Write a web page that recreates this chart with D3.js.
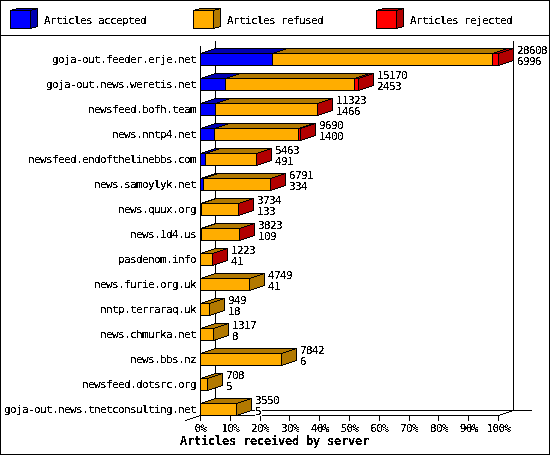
<!DOCTYPE html>
<html>
<head>
<meta charset="utf-8">
<script src="https://d3js.org/d3.v7.min.js"></script>
<style>
    body { margin: 0; background: #fff; }
    text { font-family: "DejaVu Sans Mono", monospace; font-size: 11px; letter-spacing: -0.62px; fill: #000; }
    .pixel { filter: url(#hard); }
    .title { font-size: 12px; letter-spacing: -0.22px; font-weight: bold; }
</style>
</head>
<body>
<script>
(function() {
    var servers = ["goja-out.feeder.erje.net", "goja-out.news.weretis.net", "newsfeed.bofh.team",
        "news.nntp4.net", "newsfeed.endofthelinebbs.com", "news.samoylyk.net", "news.quux.org",
        "news.1d4.us", "pasdenom.info", "news.furie.org.uk", "nntp.terraraq.uk", "news.chmurka.net",
        "news.bbs.nz", "newsfeed.dotsrc.org", "goja-out.news.tnetconsulting.net"];
    var received = [28608, 15170, 11323, 9690, 5463, 6791, 3734, 3823, 1223, 4749, 949, 1317, 7842, 708, 3550];
    var accepted = [6996, 2453, 1466, 1400, 491, 334, 133, 109, 41, 41, 18, 8, 6, 5, 5];
    // rejected is only a pixel or two wide on the picture, so these are estimates
    var rejected = [550, 360, 40, 190, 20, 20, 10, 20, 40, 0, 0, 0, 0, 0, 0];
    var legendNames = ["Articles accepted", "Articles refused", "Articles rejected"];
    var colors = ["#0000ff", "#ffad00", "#ff0000"];
    var shades = ["#0000b2", "#b27900", "#b20000"];
    var percentTicks = [0, 10, 20, 30, 40, 50, 60, 70, 80, 90, 100];

    var widthBase = 550;
    var heightBase = 455;
    var depthX = 15;
    var depthY = 5;
    var barHeight = 12;

    var x = d3.scaleLinear()
        .domain([0, 100])
        .range([200, 498]);

    // band positions follow the 25px row pitch of the picture
    var y = d3.scaleBand()
        .domain(servers)
        .range([47, 422])
        .paddingInner(13 / 25)
        .paddingOuter(6.5 / 25)
        .align(0.5);

    var px = function(v) { return Math.floor(x(v / received[0] * 100)) + 0.5; };
    var labelX = function(i) { return px(received[i]) + 18.5; };

    var svg = d3.select("body")
        .append("svg")
            .attr("width", widthBase)
            .attr("height", heightBase)
            .style("display", "block");

    // no antialiased text on the original, it is a bitmap font
    var hard = svg.append("defs").append("filter")
        .attr("id", "hard")
        .attr("x", "-5%").attr("y", "-20%").attr("width", "110%").attr("height", "140%")
        .attr("color-interpolation-filters", "sRGB");
    hard.append("feComponentTransfer")
        .append("feFuncA")
            .attr("type", "discrete")
            .attr("tableValues", "0 0 1 1 1");

    var shapes = svg.append("g").attr("shape-rendering", "crispEdges");

    // frame and legend separator
    shapes.append("rect")
        .attr("x", 0.5).attr("y", 0.5)
        .attr("width", widthBase - 1).attr("height", heightBase - 1)
        .attr("fill", "#fff").attr("stroke", "#000");
    shapes.append("line")
        .attr("x1", 0).attr("x2", widthBase)
        .attr("y1", 35.5).attr("y2", 35.5)
        .attr("stroke", "#000");

    // legend
    var legend = shapes.selectAll(".legend")
        .data(legendNames)
        .enter().append("g")
            .attr("class", "legend")
            .attr("transform", function(d, i) { return "translate(" + (10.5 + i * 183) + ",10.5)"; });
    legend.append("path")
        .attr("d", "M0,0L7,-2L27,-2L20,0Z")
        .attr("fill", function(d, i) { return shades[i]; })
        .attr("stroke", "#000");
    legend.append("path")
        .attr("d", "M20,0L27,-2L27,16L20,18Z")
        .attr("fill", function(d, i) { return shades[i]; })
        .attr("stroke", "#000");
    legend.append("rect")
        .attr("width", 20).attr("height", 18)
        .attr("fill", function(d, i) { return colors[i]; })
        .attr("stroke", "#000");

    // 3d box of the plot
    var left = x(0) + 0.5;
    var right = x(100) + 0.5;
    var frame = [
        [left, 45.5, left, 415.5],
        [left + depthX, 40.5, left + depthX, 410.5],
        [right + depthX, 40.5, right + depthX, 410.5],
        [left, 415.5, right, 415.5],
        [left + depthX, 410.5, right + depthX + 18, 410.5],
        [left - depthX, 420.5, left + depthX, 410.5],
        [right, 415.5, right + depthX, 410.5]
    ];
    shapes.selectAll(".frame")
        .data(frame)
        .enter().append("line")
            .attr("class", "frame")
            .attr("x1", function(d) { return d[0]; })
            .attr("y1", function(d) { return d[1]; })
            .attr("x2", function(d) { return d[2]; })
            .attr("y2", function(d) { return d[3]; })
            .attr("stroke", "#000");

    // bars
    var rows = shapes.selectAll(".row")
        .data(servers)
        .enter().append("g")
            .attr("class", "row")
            .attr("transform", function(d) { return "translate(0," + y(d) + ")"; });

    rows.each(function(name, r) {
        var row = d3.select(this);
        var stops = [0, accepted[r], received[r] - rejected[r], received[r]];
        var last = rejected[r] > 0 ? 2 : 1;
        var end = px(received[r]);

        for (var s = 0; s < 3; s++) {
            if (stops[s + 1] <= stops[s]) continue;
            var a = px(stops[s]);
            var b = px(stops[s + 1]);
            row.append("path")
                .attr("d", "M" + a + ",0L" + (a + depthX) + "," + (-depthY) +
                    "L" + (b + depthX) + "," + (-depthY) + "L" + b + ",0Z")
                .attr("fill", shades[s])
                .attr("stroke", "#000");
            row.append("rect")
                .attr("x", a).attr("y", 0)
                .attr("width", b - a).attr("height", barHeight)
                .attr("fill", colors[s])
                .attr("stroke", "#000");
        }
        row.append("path")
            .attr("d", "M" + end + ",0L" + (end + depthX) + "," + (-depthY) +
                "L" + (end + depthX) + "," + (barHeight - depthY) + "L" + end + "," + barHeight + "Z")
            .attr("fill", shades[last])
            .attr("stroke", "#000");
    });

    // accepted count sits on a white box, it cuts the floor line on the last row
    shapes.selectAll(".label-bg")
        .data(servers)
        .enter().append("rect")
            .attr("class", "label-bg")
            .attr("x", function(d, i) { return labelX(i); })
            .attr("y", function(d) { return y(d) + 2; })
            .attr("width", function(d, i) { return String(accepted[i]).length * 6 + 1; })
            .attr("height", 11)
            .attr("fill", "#fff");

    var labels = svg.append("g").attr("class", "pixel");

    labels.selectAll(".legend-text")
        .data(legendNames)
        .enter().append("text")
            .attr("class", "legend-text")
            .attr("x", function(d, i) { return 44 + i * 183; })
            .attr("y", 24)
            .text(function(d) { return d; });

    labels.selectAll(".server")
        .data(servers)
        .enter().append("text")
            .attr("class", "server")
            .attr("x", function(d) { return 196 - d.length * 6; })
            .attr("y", function(d) { return y(d) + 9.5; })
            .text(function(d) { return d; });

    // received over accepted, two lines of one label
    var counts = labels.selectAll(".counts")
        .data(servers)
        .enter().append("text")
            .attr("class", "counts");
    counts.append("tspan")
        .attr("x", function(d, i) { return labelX(i); })
        .attr("y", function(d) { return y(d) + 0.5; })
        .text(function(d, i) { return received[i]; });
    counts.append("tspan")
        .attr("x", function(d, i) { return labelX(i); })
        .attr("y", function(d) { return y(d) + 11.5; })
        .text(function(d, i) { return accepted[i]; });

    // x axis, the domain line is already part of the box
    var xAxis = d3.axisBottom(x)
        .tickValues(percentTicks)
        .tickSize(5)
        .tickPadding(4)
        .tickFormat(function(d) { return d + "%"; });

    var axis = svg.append("g")
        .attr("transform", "translate(0,415.5)")
        .attr("font-family", null)
        .attr("font-size", null)
        .call(xAxis);
    axis.select(".domain").remove();
    axis.selectAll("line").attr("shape-rendering", "crispEdges");
    axis.selectAll("text").attr("class", "pixel");

    labels.append("text")
        .attr("class", "title")
        .attr("x", 180)
        .attr("y", 445)
        .text("Articles received by server");
})();
</script>
</body>
</html>
